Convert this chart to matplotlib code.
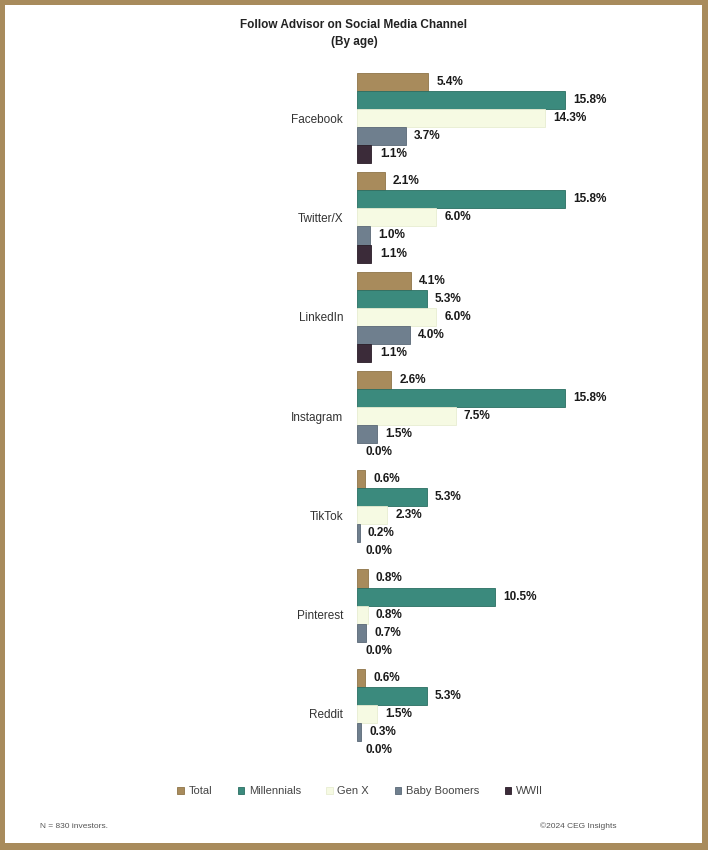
import matplotlib
matplotlib.use('Agg')
import matplotlib.pyplot as plt
from matplotlib.patches import Patch, Rectangle

plt.rcParams['font.family'] = ['Liberation Sans', 'DejaVu Sans']

# Data
channels = ['Facebook', 'Twitter/X', 'LinkedIn', 'Instagram', 'TikTok', 'Pinterest', 'Reddit']
series = ['Total', 'Millennials', 'Gen X', 'Baby Boomers', 'WWII']
total = [5.4, 2.1, 4.1, 2.6, 0.6, 0.8, 0.6]
millennials = [15.8, 15.8, 5.3, 15.8, 5.3, 10.5, 5.3]
genx = [14.3, 6.0, 6.0, 7.5, 2.3, 0.8, 1.5]
boomers = [3.7, 1.0, 4.0, 1.5, 0.2, 0.7, 0.3]
wwii = [1.1, 1.1, 1.1, 0.0, 0.0, 0.0, 0.0]
values = [total, millennials, genx, boomers, wwii]

colors = ['#A88B5C', '#3B8A7D', '#F6FAE3', '#6F7F8E', '#3B2B39']
edges = ['#8E7448', '#2A6E62', '#E8EDD2', '#5A6877', '#2A1D28']

W, H = 708, 850
fig = plt.figure(figsize=(W / 100, H / 100), dpi=100)
fig.patch.set_facecolor('#A88B5C')
fig.patches.append(Rectangle((5 / W, 7 / H), (W - 11) / W, (H - 12) / H,
                             transform=fig.transFigure, facecolor='white',
                             edgecolor='none', zorder=-1))

ax = fig.add_axes([357 / W, 1 - 759 / H, 263 / W, (759 - 73) / H])
ax.set_facecolor('none')
ax.set_zorder(2)

pitch = 5.5
for j, vals in enumerate(values):
    ys = [i * pitch + j for i in range(len(channels))]
    widths = [0.6 if v > 0 else 0 for v in vals]
    ax.barh(ys, vals, height=1.0, color=colors[j], edgecolor=edges[j],
            linewidth=widths, label=series[j])
    for y, v in zip(ys, vals):
        ax.annotate(f'{v:.1f}%', (v, y), xytext=(6, 0), textcoords='offset points',
                    va='center', ha='left', fontsize=8.5, fontweight='bold',
                    color='#1a1a1a')

ax.set_xlim(0, 20)
ax.set_ylim(-0.5, (len(channels) - 1) * pitch + 4.5)
ax.invert_yaxis()
ax.set_yticks([i * pitch + 2 for i in range(len(channels))])
ax.set_yticklabels(channels, fontsize=8.5, color='#333333')
ax.tick_params(axis='y', length=0, pad=10)
ax.set_xticks([])
for s in ax.spines.values():
    s.set_visible(False)

fig.text(0.5, 1 - 25 / H, 'Follow Advisor on Social Media Channel',
         ha='center', va='center', fontsize=8.5, fontweight='bold', color='#222222')
fig.text(0.5, 1 - 42 / H, '(By age)',
         ha='center', va='center', fontsize=8.5, fontweight='bold', color='#222222')

handles = [Patch(facecolor=c, edgecolor=e, linewidth=0.6) for c, e in zip(colors, edges)]
fig.legend(handles, series, loc='center', bbox_to_anchor=(360 / W, 1 - 791 / H),
           ncol=5, frameon=False, fontsize=8, handlelength=0.6, handleheight=0.6,
           handletextpad=0.4, columnspacing=2.3, labelcolor='#444444')

fig.text(40 / W, 1 - 826 / H, 'N = 830 investors.', fontsize=6, color='#555555',
         va='center', ha='left')
fig.text(616 / W, 1 - 826 / H, '\u00a92024 CEG Insights', fontsize=6, color='#555555',
         va='center', ha='right')

fig.savefig('out.png', dpi=100, facecolor=fig.get_facecolor())
